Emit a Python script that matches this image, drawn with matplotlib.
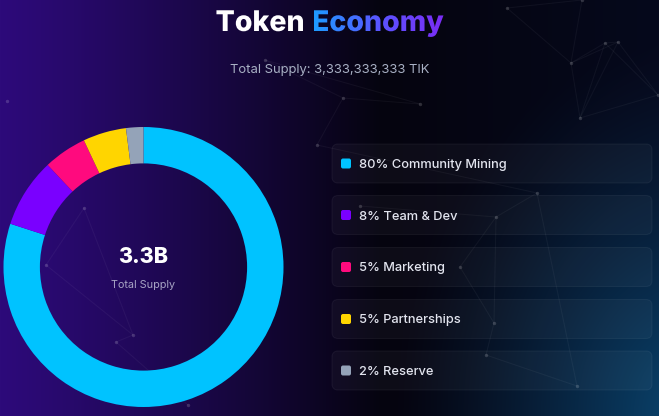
import numpy as np
import matplotlib.pyplot as plt
from matplotlib.colors import LinearSegmentedColormap, to_rgb
from matplotlib.patches import FancyBboxPatch, PathPatch
from matplotlib.textpath import TextPath
from matplotlib.font_manager import FontProperties

# data
labels = ['Community Mining', 'Team & Dev', 'Marketing', 'Partnerships', 'Reserve']
shares = [80, 8, 5, 5, 2]
colors = ['#00c3ff', '#7a00ff', '#ff0a7e', '#ffd500', '#94a3b8']
total_supply = '3,333,333,333 TIK'
center_value = '3.3B'

W, H = 659, 416
fig = plt.figure(figsize=(W / 100, H / 100), dpi=100)

# background in pixel coords (y up)
bg = fig.add_axes([0, 0, 1, 1])
bg.set_xlim(0, W)
bg.set_ylim(0, H)
bg.axis('off')

xx, yy = np.meshgrid(np.linspace(0, 1, W), np.linspace(0, 1, H))
purple = np.array(to_rgb('#2d0a7a'))
dark = np.array(to_rgb('#05040f'))
navy = np.array(to_rgb('#06091c'))
glow = np.array(to_rgb('#0a4670'))
t = np.clip(xx / 0.58, 0, 1)[..., None] ** 1.15
img = purple * (1 - t) + dark * t
t2 = np.clip((xx - 0.58) / 0.42, 0, 1)[..., None]
img = img * (1 - t2) + navy * t2
d = np.sqrt(((xx - 1.05) / 0.45) ** 2 + ((yy - 0.0) / 0.9) ** 2)
g = np.clip(1 - d, 0, 1)[..., None] ** 1.3
img = img * (1 - g) + glow * g
bg.imshow(img, extent=[0, W, H, 0], origin='upper', aspect='auto', zorder=0)

# faint network decoration
nodes = {'a': (507, 8), 'b': (571, 63), 'c': (605, 43), 'd': (618, 42), 'e': (658, 95),
         'f': (580, 118), 'g': (420, 104), 'h': (343, 98), 'i': (317, 145), 'j': (537, 193),
         'k': (496, 217), 'l': (360, 206), 'm': (460, 267), 'n': (494, 323), 'o': (486, 355),
         'p': (577, 386), 'q': (84, 208), 'r': (46, 265), 's': (133, 335), 'u': (116, 342),
         'v': (188, 405), 'w': (582, 0), 'x': (265, 60), 'y': (7, 101)}
edges = ['aw', 'bw', 'bc', 'bd', 'cd', 'ce', 'de', 'df', 'cf', 'bf', 'fe', 'ab', 'gh', 'hi',
         'gx', 'hx', 'ij', 'jk', 'kl', 'km', 'mn', 'no', 'op', 'kn', 'qr', 'rs', 'su', 'uv',
         'qs', 'jp']
for e in edges:
    (x1, y1), (x2, y2) = nodes[e[0]], nodes[e[1]]
    bg.plot([x1, x2], [H - y1, H - y2], color='white', alpha=0.045, lw=0.8, zorder=1)
for x, y in nodes.values():
    bg.scatter(x, H - y, s=6, color='white', alpha=0.16, lw=0, zorder=1)

# title with gradient second word
tfont = FontProperties(family='Inter', weight='heavy')
fs = 28.5
p1 = TextPath((0, 0), 'Token', size=fs, prop=tfont)
p2 = TextPath((0, 0), 'Economy', size=fs, prop=tfont)
gap = 9
w1 = p1.get_extents().x1 + gap
w2 = p2.get_extents().x1
x0 = W / 2 - (w1 + w2) / 2
base = H - 31
p1 = TextPath((x0, base), 'Token', size=fs, prop=tfont)
p2 = TextPath((x0 + w1, base), 'Economy', size=fs, prop=tfont)
bg.add_patch(PathPatch(p1, facecolor='white', edgecolor='none', zorder=3))
clip = PathPatch(p2, facecolor='none', edgecolor='none', zorder=3)
bg.add_patch(clip)
ext = p2.get_extents()
grad = LinearSegmentedColormap.from_list('tg', ['#1e9bff', '#5a55ff', '#7b2cf5'])
gi = bg.imshow(np.linspace(0, 1, 256)[None, :], cmap=grad, aspect='auto',
               extent=[ext.x0, ext.x1, ext.y0, ext.y1], zorder=3)
gi.set_clip_path(clip)
bg.set_xlim(0, W)
bg.set_ylim(0, H)

bg.text(W / 2, H - 73, 'Total Supply: ' + total_supply, ha='center', va='baseline',
        fontsize=9.35, family='Inter', color='#a8b0c4', zorder=3)

# legend boxes
box_y = [163.5, 215, 267, 319, 370.5]
for lab, val, col, cy in zip(labels, shares, colors, box_y):
    bg.add_patch(FancyBboxPatch((332, H - cy - 19.5), 320, 39,
                                boxstyle='round,pad=0,rounding_size=6',
                                facecolor=(1, 1, 1, 0.035), edgecolor=(1, 1, 1, 0.05),
                                lw=0.8, zorder=2))
    bg.add_patch(FancyBboxPatch((341, H - cy - 5), 10, 10,
                                boxstyle='round,pad=0,rounding_size=2',
                                facecolor=col, edgecolor='none', zorder=3))
    bg.text(359, H - cy - 4.5, f'{val}% {lab}', ha='left', va='baseline',
            fontsize=9.25, family='Inter', weight='medium', color='#e2e4ee', zorder=3)

# donut
cx, cy, r = 143.5, 267, 140
ax = fig.add_axes([(cx - r) / W, (H - cy - r) / H, 2 * r / W, 2 * r / H])
ax.pie(shares, colors=colors, startangle=90, counterclock=False,
       wedgeprops=dict(width=0.26, edgecolor='none', linewidth=0))
ax.set_xlim(-1, 1)
ax.set_ylim(-1, 1)
ax.axis('off')
ax.text(0, 0.025, center_value, ha='center', va='baseline', fontsize=15.5,
        family='Inter', weight='heavy', color='white')
ax.text(0, -0.15, 'Total Supply', ha='center', va='baseline', fontsize=7.8,
        family='Inter', color='#a7a3c4')

fig.savefig('out.png', dpi=100)
